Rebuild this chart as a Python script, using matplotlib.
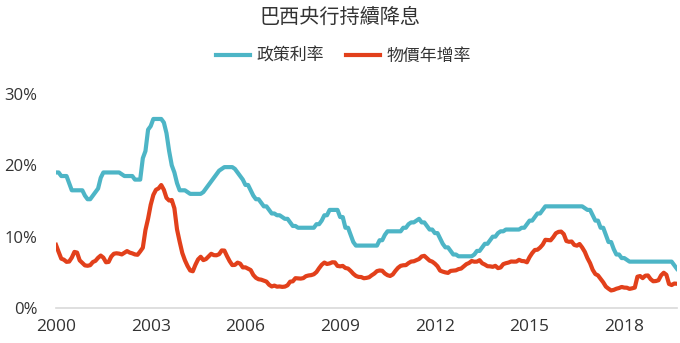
import matplotlib
matplotlib.use("Agg")
import matplotlib.pyplot as plt
import numpy as np

# Monthly data, Jan 2000 - Sep 2019
selic = [
    # 2000
    19.0, 19.0, 18.5, 18.5, 18.5, 17.5, 16.5, 16.5, 16.5, 16.5, 16.5, 15.75,
    # 2001
    15.25, 15.25, 15.75, 16.25, 16.75, 18.25, 19.0, 19.0, 19.0, 19.0, 19.0, 19.0,
    # 2002
    19.0, 18.75, 18.5, 18.5, 18.5, 18.5, 18.0, 18.0, 18.0, 21.0, 22.0, 25.0,
    # 2003
    25.5, 26.5, 26.5, 26.5, 26.5, 26.0, 24.5, 22.0, 20.0, 19.0, 17.5, 16.5,
    # 2004
    16.5, 16.5, 16.25, 16.0, 16.0, 16.0, 16.0, 16.0, 16.25, 16.75, 17.25, 17.75,
    # 2005
    18.25, 18.75, 19.25, 19.5, 19.75, 19.75, 19.75, 19.75, 19.5, 19.0, 18.5, 18.0,
    # 2006
    17.25, 17.25, 16.5, 15.75, 15.25, 15.25, 14.75, 14.25, 14.25, 13.75, 13.25, 13.25,
    # 2007
    13.0, 13.0, 12.75, 12.5, 12.5, 12.0, 11.5, 11.5, 11.25, 11.25, 11.25, 11.25,
    # 2008
    11.25, 11.25, 11.25, 11.75, 11.75, 12.25, 13.0, 13.0, 13.75, 13.75, 13.75, 13.75,
    # 2009
    12.75, 12.75, 11.25, 11.25, 10.25, 9.25, 8.75, 8.75, 8.75, 8.75, 8.75, 8.75,
    # 2010
    8.75, 8.75, 8.75, 9.5, 9.5, 10.25, 10.75, 10.75, 10.75, 10.75, 10.75, 10.75,
    # 2011
    11.25, 11.25, 11.75, 12.0, 12.0, 12.25, 12.5, 12.0, 12.0, 11.5, 11.0, 11.0,
    # 2012
    10.5, 10.5, 9.75, 9.0, 8.5, 8.5, 8.0, 7.5, 7.5, 7.25, 7.25, 7.25,
    # 2013
    7.25, 7.25, 7.25, 7.5, 8.0, 8.0, 8.5, 9.0, 9.0, 9.5, 10.0, 10.0,
    # 2014
    10.5, 10.75, 10.75, 11.0, 11.0, 11.0, 11.0, 11.0, 11.0, 11.25, 11.25, 11.75,
    # 2015
    12.25, 12.25, 12.75, 13.25, 13.25, 13.75, 14.25, 14.25, 14.25, 14.25, 14.25, 14.25,
    # 2016
    14.25, 14.25, 14.25, 14.25, 14.25, 14.25, 14.25, 14.25, 14.25, 14.0, 13.75, 13.75,
    # 2017
    13.0, 12.25, 12.25, 11.25, 11.25, 10.25, 9.25, 9.25, 8.25, 7.5, 7.5, 7.0,
    # 2018
    7.0, 6.75, 6.5, 6.5, 6.5, 6.5, 6.5, 6.5, 6.5, 6.5, 6.5, 6.5,
    # 2019
    6.5, 6.5, 6.5, 6.5, 6.5, 6.5, 6.5, 6.0, 5.5,
]

ipca = [
    # 2000
    8.85, 7.86, 6.92, 6.77, 6.47, 6.51, 7.06, 7.86, 7.77, 6.68, 6.32, 5.97,
    # 2001
    5.92, 6.00, 6.44, 6.61, 7.04, 7.35, 7.06, 6.41, 6.46, 7.21, 7.61, 7.67,
    # 2002
    7.62, 7.51, 7.75, 7.98, 7.77, 7.66, 7.51, 7.46, 7.93, 8.45, 10.93, 12.53,
    # 2003
    14.47, 15.85, 16.57, 16.77, 17.24, 16.57, 15.43, 15.07, 15.14, 13.98, 11.02, 9.30,
    # 2004
    7.71, 6.69, 5.89, 5.26, 5.15, 6.06, 6.81, 7.18, 6.71, 6.86, 7.24, 7.60,
    # 2005
    7.41, 7.39, 7.54, 8.07, 8.05, 7.27, 6.57, 6.02, 6.04, 6.36, 6.22, 5.69,
    # 2006
    5.70, 5.51, 5.32, 4.63, 4.23, 4.03, 3.97, 3.84, 3.70, 3.26, 3.02, 3.14,
    # 2007
    2.99, 3.02, 2.96, 3.00, 3.18, 3.69, 3.74, 4.18, 4.15, 4.12, 4.19, 4.46,
    # 2008
    4.56, 4.61, 4.73, 5.04, 5.58, 6.06, 6.37, 6.17, 6.25, 6.41, 6.39, 5.90,
    # 2009
    5.84, 5.90, 5.61, 5.53, 5.20, 4.80, 4.50, 4.36, 4.34, 4.17, 4.22, 4.31,
    # 2010
    4.59, 4.83, 5.17, 5.26, 5.22, 4.84, 4.60, 4.49, 4.70, 5.20, 5.63, 5.91,
    # 2011
    5.99, 6.01, 6.30, 6.51, 6.55, 6.71, 6.87, 7.23, 7.31, 6.97, 6.64, 6.50,
    # 2012
    6.22, 5.85, 5.24, 5.10, 4.99, 4.92, 5.20, 5.24, 5.28, 5.45, 5.53, 5.84,
    # 2013
    6.15, 6.31, 6.59, 6.49, 6.50, 6.70, 6.27, 6.09, 5.86, 5.84, 5.77, 5.91,
    # 2014
    5.59, 5.68, 6.15, 6.28, 6.37, 6.52, 6.50, 6.51, 6.75, 6.59, 6.56, 6.41,
    # 2015
    7.14, 7.70, 8.13, 8.17, 8.47, 8.89, 9.56, 9.53, 9.49, 9.93, 10.48, 10.67,
    # 2016
    10.71, 10.36, 9.39, 9.28, 9.32, 8.84, 8.74, 8.97, 8.48, 7.87, 6.99, 6.29,
    # 2017
    5.35, 4.76, 4.57, 4.08, 3.60, 3.00, 2.71, 2.46, 2.54, 2.70, 2.80, 2.95,
    # 2018
    2.86, 2.84, 2.68, 2.76, 2.86, 4.39, 4.48, 4.19, 4.53, 4.56, 4.05, 3.75,
    # 2019
    3.78, 3.89, 4.58, 4.94, 4.66, 3.37, 3.22, 3.43, 3.40,
]

start_year = 2000
x_ticks = [2000, 2003, 2006, 2009, 2012, 2015, 2018]
y_ticks = [0, 10, 20, 30]
title = "巴西央行持續降息"
series_names = ["政策利率", "物價年增率"]

teal = "#4db5c6"
red = "#e2401b"
txt = "#333333"

plt.rcParams['font.family'] = ['Noto Sans CJK TC', 'DejaVu Sans']

fig = plt.figure(figsize=(6.8, 3.43), dpi=100)
ax = fig.add_axes([56/680, (343-308)/343, (677-56)/680, (308-94)/343])

t = start_year + np.arange(len(selic)) / 12.0
t2 = start_year + np.arange(len(ipca)) / 12.0
l1, = ax.plot(t, selic, color=teal, lw=3.0, solid_joinstyle='round', label=series_names[0])
l2, = ax.plot(t2, ipca, color=red, lw=3.0, solid_joinstyle='round', label=series_names[1])

tick_font = ['Open Sans', 'DejaVu Sans']
ax.set_xlim(2000, 2019.67)
ax.set_ylim(0, 30)
ax.set_xticks(x_ticks)
ax.set_xticklabels([str(v) for v in x_ticks], fontsize=12.5, color=txt, family=tick_font)
ax.set_yticks(y_ticks)
ax.set_yticklabels([f"{v}%" for v in y_ticks], fontsize=12, color=txt, family=tick_font)
ax.tick_params(axis='both', length=0)
ax.tick_params(axis='y', pad=13.5)
ax.tick_params(axis='x', pad=8)
for s in ['top', 'right', 'left']:
    ax.spines[s].set_visible(False)
ax.spines['bottom'].set_color('#d9d9d9')
ax.spines['bottom'].set_linewidth(1.2)

fig.text(0.5, 1 - 17/343, title, ha='center', va='center', fontsize=14.5, color=txt)
fig.legend(handles=[l1, l2], loc='center', bbox_to_anchor=(0.505, 1 - 56/343), ncol=2,
           frameon=False, fontsize=12.2, handlelength=2.0, handletextpad=0.4,
           columnspacing=1.3, labelcolor=txt)

fig.savefig("out.png", dpi=100)
